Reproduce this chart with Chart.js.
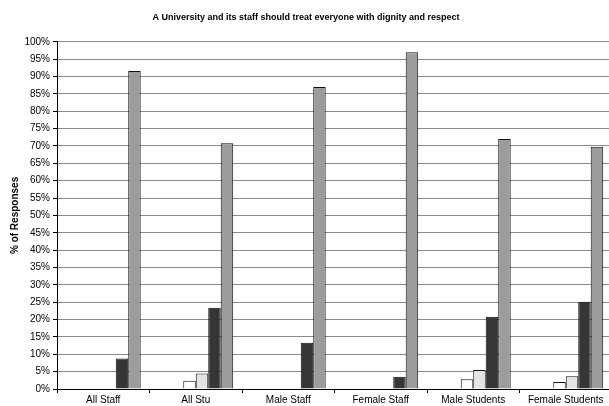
<!DOCTYPE html>
<html lang="en">
<head>
  <meta charset="UTF-8" />
  <title>A University and its staff should treat everyone with dignity and respect</title>
  <script src="https://cdn.jsdelivr.net/npm/chart.js"></script>
  <style>
    html, body { margin: 0; padding: 0; background: #fff; overflow: hidden; }
    #wrap { width: 612px; height: 406px; }
  </style>
</head>
<body>
  <div id="wrap"><canvas id="chart" width="612" height="406"></canvas></div>

  <script>
    // categories and series (% of responses)
    const groups = ['All Staff', 'All Stu', 'Male Staff', 'Female Staff', 'Male Students', 'Female Students'];
    const strongDisagree = [0, 0, 0, 0, 0, 0];
    const disagree = [0, 0, 0, 0, 0, 0];
    const unsure = [0, 2.4, 0, 0, 2.8, 2.0];
    const neutral = [0, 4.5, 0, 0, 5.5, 3.7];
    const agree = [8.8, 23.4, 13.3, 3.5, 20.8, 25.1];
    const strongAgree = [91.6, 70.8, 87.0, 97.0, 72.0, 69.8];
    const yTicks = [0, 5, 10, 15, 20, 25, 30, 35, 40, 45, 50, 55, 60, 65, 70, 75, 80, 85, 90, 95, 100];

    const font = "'Liberation Sans', Arial, sans-serif";

    function ds(label, data, color, bw) {
      return { label: label, data: data, backgroundColor: color, borderColor: '#111', borderWidth: bw };
    }

    new Chart(document.getElementById('chart').getContext('2d'), {
      type: 'bar',
      data: {
        labels: groups,
        datasets: [
          ds('Strongly Disagree', strongDisagree, '#ffffff', 0),
          ds('Disagree', disagree, '#ffffff', 0),
          ds('Not Sure', unsure, '#ffffff', 1),
          ds('Neutral', neutral, '#e4e4e4', 1),
          ds('Agree', agree, '#363636', 1),
          ds('Strongly Agree', strongAgree, '#9c9c9c', 1)
        ]
      },
      options: {
        responsive: false,
        animation: false,
        devicePixelRatio: 1,
        layout: { padding: 0 },
        datasets: { bar: { categoryPercentage: 0.81, barPercentage: 1 } },
        plugins: {
          legend: { display: false },
          tooltip: { enabled: false },
          title: {
            display: true,
            text: 'A University and its staff should treat everyone with dignity and respect',
            color: '#000',
            font: { family: font, size: 9, weight: 'bold' },
            padding: { top: 12, bottom: 19 }
          }
        },
        scales: {
          x: {
            grid: { offset: true, drawOnChartArea: false, tickLength: 4, tickColor: '#000' },
            border: { color: '#000', width: 1 },
            ticks: { color: '#000', padding: 1, maxRotation: 0, autoSkip: false, font: { family: font, size: 10 } },
            afterFit: function (s) { s.height = 17; }
          },
          y: {
            min: 0,
            max: 100,
            afterBuildTicks: function (s) { s.ticks = yTicks.map(function (v) { return { value: v }; }); },
            grid: { color: '#8a8a8a', lineWidth: 1, tickLength: 4, tickColor: '#000' },
            border: { color: '#000', width: 1 },
            ticks: { color: '#000', padding: 3, font: { family: font, size: 10 }, callback: function (v) { return v + '%'; } },
            title: {
              display: true,
              text: '% of Responses',
              color: '#000',
              font: { family: font, size: 10, weight: 'bold' },
              padding: { top: 9, bottom: 0 }
            },
            afterFit: function (s) { s.width = 57; }
          }
        }
      }
    });
  </script>
</body>
</html>
